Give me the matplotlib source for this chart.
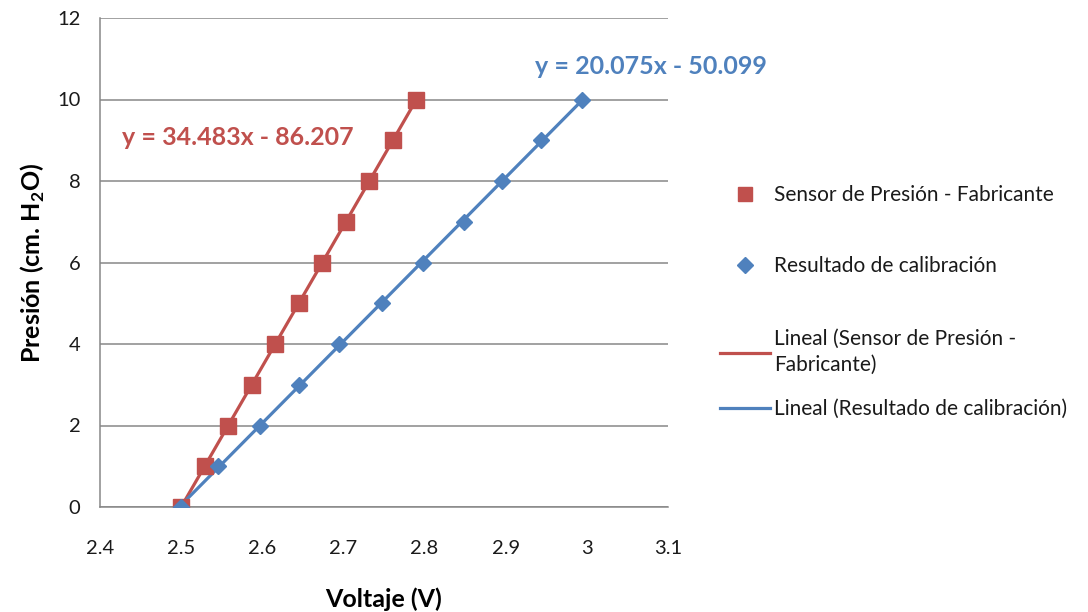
import numpy as np
import matplotlib
matplotlib.use("Agg")
import matplotlib.pyplot as plt
from matplotlib.lines import Line2D

plt.rcParams['font.family'] = ['Lato', 'DejaVu Sans']
plt.rcParams['mathtext.fontset'] = 'custom'
plt.rcParams['mathtext.rm'] = 'Lato'
plt.rcParams['mathtext.bf'] = 'Lato:bold'

# Data
pressure = [0, 1, 2, 3, 4, 5, 6, 7, 8, 9, 10]
volt_sensor = [2.500, 2.529, 2.558, 2.587, 2.616, 2.645, 2.674, 2.703, 2.732, 2.761, 2.790]
volt_calib = [2.500, 2.545, 2.597, 2.645, 2.695, 2.748, 2.798, 2.848, 2.896, 2.944, 2.994]

label_sensor = "Sensor de Presión - Fabricante"
label_calib = "Resultado de calibración"
label_fit_sensor = "Lineal (Sensor de Presión -\nFabricante)"
label_fit_calib = "Lineal (Resultado de calibración)"
eq_sensor = "y = 34.483x - 86.207"
eq_calib = "y = 20.075x - 50.099"

x_ticks = [2.4, 2.5, 2.6, 2.7, 2.8, 2.9, 3.0, 3.1]
x_ticklabels = ["2.4", "2.5", "2.6", "2.7", "2.8", "2.9", "3", "3.1"]
y_ticks = [0, 2, 4, 6, 8, 10, 12]

RED = "#C0504D"
BLUE = "#4F81BD"
GRID = "#878787"

fig = plt.figure(figsize=(10.88, 6.12), dpi=100)
ax = fig.add_axes([100/1088, 1 - 507/612, (668-100)/1088, (507-18)/612])

# trendlines from least-squares fit
xs = np.array(volt_sensor); ys = np.array(pressure)
m1, b1 = np.polyfit(xs, ys, 1)
xc = np.array(volt_calib)
m2, b2 = np.polyfit(xc, ys, 1)

ax.plot(xs, m1*xs + b1, color=RED, lw=2.3, zorder=3)
ax.plot(xc, m2*xc + b2, color=BLUE, lw=2.3, zorder=3)
ax.plot(xs, ys, ls='none', marker='s', ms=11.5, color=RED, zorder=4)
ax.plot(xc, ys, ls='none', marker='D', ms=8.5, color=BLUE, zorder=5)

ax.set_xlim(2.4, 3.1)
ax.set_ylim(0, 12)
ax.set_xticks(x_ticks)
ax.set_xticklabels(x_ticklabels)
ax.set_yticks(y_ticks)
ax.tick_params(length=0, labelsize=14.5, colors='#1a1a1a')
ax.tick_params(axis='y', pad=14)
ax.tick_params(axis='x', pad=24)
ax.yaxis.grid(True, color=GRID, lw=1.1)
ax.set_axisbelow(True)
for s in ['top', 'right']:
    ax.spines[s].set_visible(False)
for s in ['left', 'bottom']:
    ax.spines[s].set_color(GRID)
    ax.spines[s].set_linewidth(1.1)

ax.set_xlabel("Voltaje (V)", fontsize=18, fontweight='bold', labelpad=22)
ax.set_ylabel(r"Presión (cm. H$_{\mathbf{2}}$O)", fontsize=18, fontweight='bold', labelpad=7)

ax.text(2.427, 9.06, eq_sensor, color=RED, fontsize=18, fontweight='bold',
        va='center', ha='left', clip_on=False)
ax.text(2.936, 10.82, eq_calib, color=BLUE, fontsize=18, fontweight='bold',
        va='center', ha='left', clip_on=False)

# legend entries positioned individually
entries = [
    (Line2D([], [], ls='none', marker='s', ms=10, color=RED), label_sensor, 195),
    (Line2D([], [], ls='none', marker='D', ms=8, color=BLUE), label_calib, 266),
    (Line2D([], [], color=RED, lw=2.3), label_fit_sensor, 352),
    (Line2D([], [], color=BLUE, lw=2.3), label_fit_calib, 409),
]
for h, lab, ypix in entries:
    leg = fig.legend([h], [lab], loc='center left',
                     bbox_to_anchor=(720/1088, 1 - ypix/612), frameon=False,
                     fontsize=15, handlelength=2.4, handletextpad=0.2,
                     borderpad=0, borderaxespad=0)
    for t in leg.get_texts():
        t.set_linespacing(1.35)
        t.set_color('#1a1a1a')

fig.savefig("out.png", dpi=100)
